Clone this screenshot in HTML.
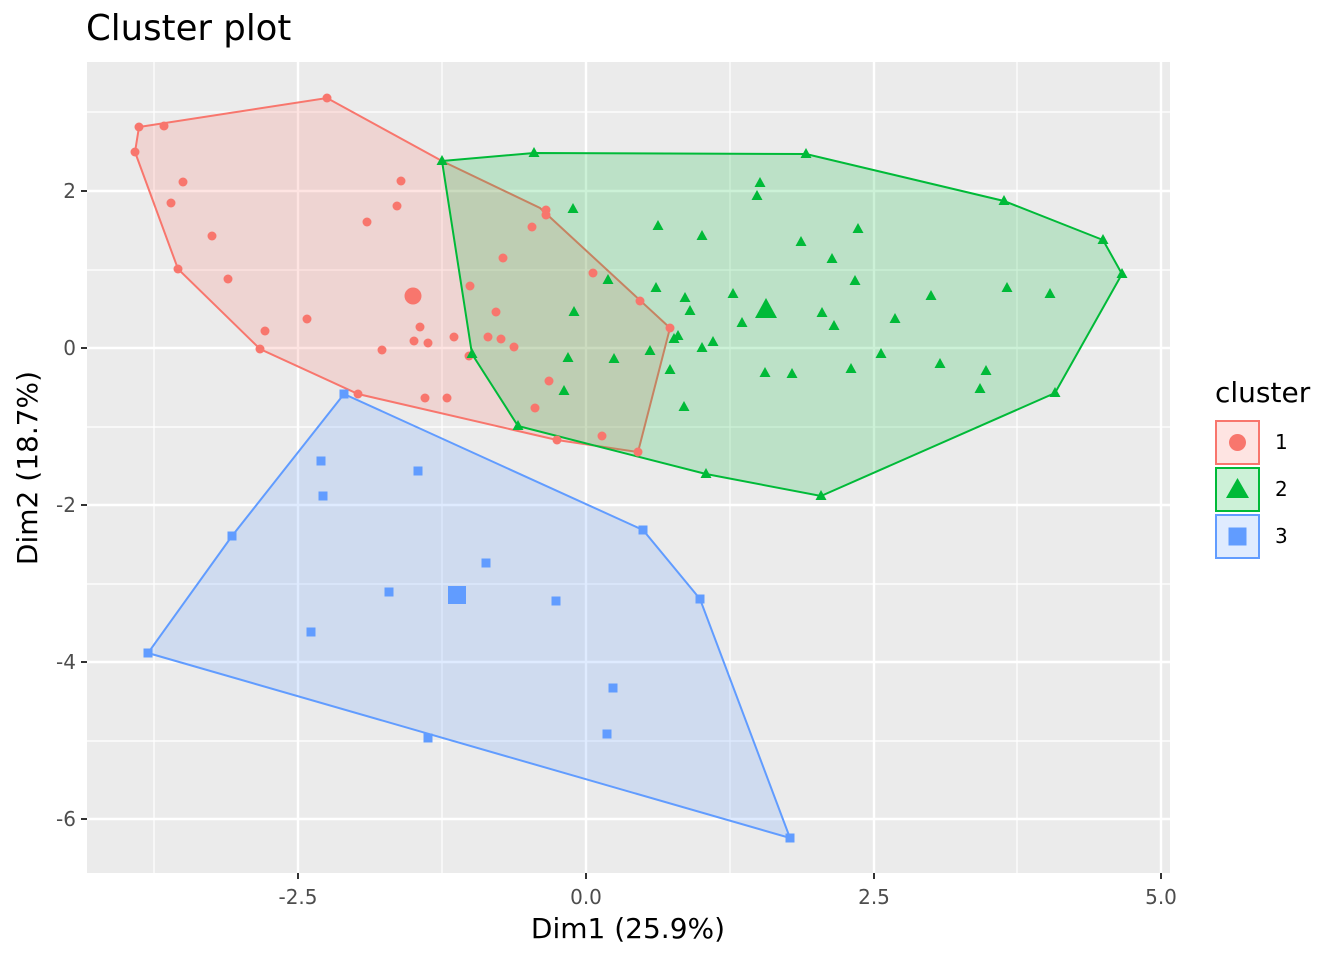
<!DOCTYPE html>
<html><head><meta charset="utf-8"><style>
html,body{margin:0;padding:0;background:#fff;}
svg{display:block;font-family:"DejaVu Sans","Liberation Sans",sans-serif;}
</style></head><body>
<svg width="1344" height="960" viewBox="0 0 1344 960" xmlns="http://www.w3.org/2000/svg">
<defs>
<circle id="c" r="4.5" fill="#F8766D"/>
<polygon id="t" points="0,-6 5.5,4 -5.5,4" fill="#00BA38"/>
<rect id="s" x="-4.5" y="-4.5" width="9" height="9" fill="#619CFF"/>
</defs>
<text x="86" y="40" font-size="35.5" fill="#000">Cluster plot</text>
<rect x="87" y="62" width="1083" height="811" fill="#EBEBEB"/>
<g stroke="#fff" stroke-width="1.2">
<line x1="154" y1="62" x2="154" y2="873"/><line x1="442" y1="62" x2="442" y2="873"/><line x1="730" y1="62" x2="730" y2="873"/><line x1="1017" y1="62" x2="1017" y2="873"/>
<line x1="87" y1="112" x2="1170" y2="112"/><line x1="87" y1="270" x2="1170" y2="270"/><line x1="87" y1="427" x2="1170" y2="427"/><line x1="87" y1="584" x2="1170" y2="584"/><line x1="87" y1="741" x2="1170" y2="741"/>
</g>
<g stroke="#fff" stroke-width="2.4">
<line x1="298" y1="62" x2="298" y2="873"/><line x1="586" y1="62" x2="586" y2="873"/><line x1="874" y1="62" x2="874" y2="873"/><line x1="1161" y1="62" x2="1161" y2="873"/>
<line x1="87" y1="191" x2="1170" y2="191"/><line x1="87" y1="348" x2="1170" y2="348"/><line x1="87" y1="505" x2="1170" y2="505"/><line x1="87" y1="662" x2="1170" y2="662"/><line x1="87" y1="819" x2="1170" y2="819"/>
</g>
<polygon points="135,152 139,127 327,98 442,161 540,208 670,328 638,452 557,440 358,394 260,349 178,269" fill="#F8766D" fill-opacity="0.2" stroke="#F8766D" stroke-width="2"/>
<polygon points="442,161 534,153 806,154 1004,201 1103,240 1122,274 1055,393 821,496 706,474 518,426 472,354" fill="#00BA38" fill-opacity="0.2" stroke="#00BA38" stroke-width="2"/>
<polygon points="344,394 643,530 700,599 790,838 148,653 232,536" fill="#619CFF" fill-opacity="0.2" stroke="#619CFF" stroke-width="2"/>
<g>
<use href="#c" x="139" y="127"/><use href="#c" x="164" y="126"/><use href="#c" x="135" y="152"/><use href="#c" x="327" y="98"/><use href="#c" x="183" y="182"/><use href="#c" x="171" y="203"/><use href="#c" x="401" y="181"/><use href="#c" x="397" y="206"/><use href="#c" x="212" y="236"/><use href="#c" x="367" y="222"/><use href="#c" x="228" y="279"/><use href="#c" x="178" y="269"/><use href="#c" x="265" y="331"/><use href="#c" x="260" y="349"/><use href="#c" x="307" y="319"/><use href="#c" x="420" y="327"/><use href="#c" x="414" y="341"/><use href="#c" x="428" y="343"/><use href="#c" x="382" y="350"/><use href="#c" x="358" y="394"/><use href="#c" x="425" y="398"/><use href="#c" x="447" y="398"/><use href="#c" x="469" y="356"/><use href="#c" x="454" y="337"/><use href="#c" x="470" y="286"/><use href="#c" x="503" y="258"/><use href="#c" x="496" y="312"/><use href="#c" x="488" y="337"/><use href="#c" x="501" y="339"/><use href="#c" x="514" y="347"/><use href="#c" x="532" y="227"/><use href="#c" x="546" y="210"/><use href="#c" x="546" y="215"/><use href="#c" x="593" y="273"/><use href="#c" x="640" y="301"/><use href="#c" x="670" y="328"/><use href="#c" x="549" y="381"/><use href="#c" x="535" y="408"/><use href="#c" x="557" y="440"/><use href="#c" x="602" y="436"/><use href="#c" x="638" y="452"/>
<circle cx="413" cy="296" r="8.5" fill="#F8766D"/>
</g>
<g>
<use href="#t" x="442" y="161"/><use href="#t" x="534" y="153"/><use href="#t" x="806" y="154"/><use href="#t" x="1004" y="201"/><use href="#t" x="1103" y="240"/><use href="#t" x="1122" y="274"/><use href="#t" x="1055" y="393"/><use href="#t" x="821" y="496"/><use href="#t" x="706" y="474"/><use href="#t" x="518" y="426"/><use href="#t" x="472" y="354"/><use href="#t" x="760" y="183"/><use href="#t" x="757" y="196"/><use href="#t" x="801" y="242"/><use href="#t" x="832" y="259"/><use href="#t" x="858" y="229"/><use href="#t" x="855" y="281"/><use href="#t" x="895" y="319"/><use href="#t" x="931" y="296"/><use href="#t" x="1007" y="288"/><use href="#t" x="1050" y="294"/><use href="#t" x="940" y="364"/><use href="#t" x="986" y="371"/><use href="#t" x="980" y="389"/><use href="#t" x="881" y="354"/><use href="#t" x="851" y="369"/><use href="#t" x="822" y="313"/><use href="#t" x="834" y="326"/><use href="#t" x="765" y="373"/><use href="#t" x="792" y="374"/><use href="#t" x="733" y="294"/><use href="#t" x="742" y="323"/><use href="#t" x="713" y="342"/><use href="#t" x="702" y="348"/><use href="#t" x="690" y="311"/><use href="#t" x="685" y="298"/><use href="#t" x="678" y="336"/><use href="#t" x="674" y="339"/><use href="#t" x="670" y="370"/><use href="#t" x="684" y="407"/><use href="#t" x="656" y="288"/><use href="#t" x="658" y="226"/><use href="#t" x="702" y="236"/><use href="#t" x="608" y="280"/><use href="#t" x="614" y="359"/><use href="#t" x="650" y="351"/><use href="#t" x="568" y="358"/><use href="#t" x="564" y="391"/><use href="#t" x="574" y="312"/><use href="#t" x="573" y="209"/>
<polygon points="766,298 777,318 755,318" fill="#00BA38"/>
</g>
<g>
<use href="#s" x="344" y="394"/><use href="#s" x="643" y="530"/><use href="#s" x="700" y="599"/><use href="#s" x="790" y="838"/><use href="#s" x="148" y="653"/><use href="#s" x="232" y="536"/><use href="#s" x="321" y="461"/><use href="#s" x="418" y="471"/><use href="#s" x="323" y="496"/><use href="#s" x="486" y="563"/><use href="#s" x="389" y="592"/><use href="#s" x="556" y="601"/><use href="#s" x="311" y="632"/><use href="#s" x="613" y="688"/><use href="#s" x="607" y="734"/><use href="#s" x="428" y="738"/>
<rect x="448" y="586" width="18" height="18" fill="#619CFF"/>
</g>
<g stroke="#333" stroke-width="2">
<line x1="298" y1="873" x2="298" y2="879"/><line x1="586" y1="873" x2="586" y2="879"/><line x1="874" y1="873" x2="874" y2="879"/><line x1="1161" y1="873" x2="1161" y2="879"/>
<line x1="81" y1="191" x2="87" y2="191"/><line x1="81" y1="348" x2="87" y2="348"/><line x1="81" y1="505" x2="87" y2="505"/><line x1="81" y1="662" x2="87" y2="662"/><line x1="81" y1="819" x2="87" y2="819"/>
</g>
<g font-size="20" fill="#4D4D4D" text-anchor="middle">
<text x="298" y="904">-2.5</text><text x="586" y="904">0.0</text><text x="874" y="904">2.5</text><text x="1161" y="904">5.0</text>
</g>
<g font-size="20" fill="#4D4D4D" text-anchor="end">
<text x="76" y="198">2</text><text x="76" y="355">0</text><text x="76" y="512">-2</text><text x="76" y="669">-4</text><text x="76" y="826">-6</text>
</g>
<text x="628" y="938" font-size="28" text-anchor="middle" fill="#000">Dim1 (25.9%)</text>
<text transform="translate(37,468) rotate(-90)" font-size="28" text-anchor="middle" fill="#000">Dim2 (18.7%)</text>
<text x="1215" y="402" font-size="28" fill="#000">cluster</text>
<rect x="1216" y="421" width="43" height="43" fill="#F8766D" fill-opacity="0.2" stroke="#F8766D" stroke-width="2"/>
<circle cx="1237.5" cy="442.5" r="8.5" fill="#F8766D"/>
<rect x="1216" y="468" width="43" height="43" fill="#00BA38" fill-opacity="0.2" stroke="#00BA38" stroke-width="2"/>
<polygon points="1237.5,478 1249,498 1226,498" fill="#00BA38"/>
<rect x="1216" y="515" width="43" height="43" fill="#619CFF" fill-opacity="0.2" stroke="#619CFF" stroke-width="2"/>
<rect x="1228.5" y="527.5" width="18" height="18" fill="#619CFF"/>
<g font-size="20" fill="#000">
<text x="1275" y="449">1</text><text x="1275" y="496">2</text><text x="1275" y="543">3</text>
</g>
</svg>
</body></html>
